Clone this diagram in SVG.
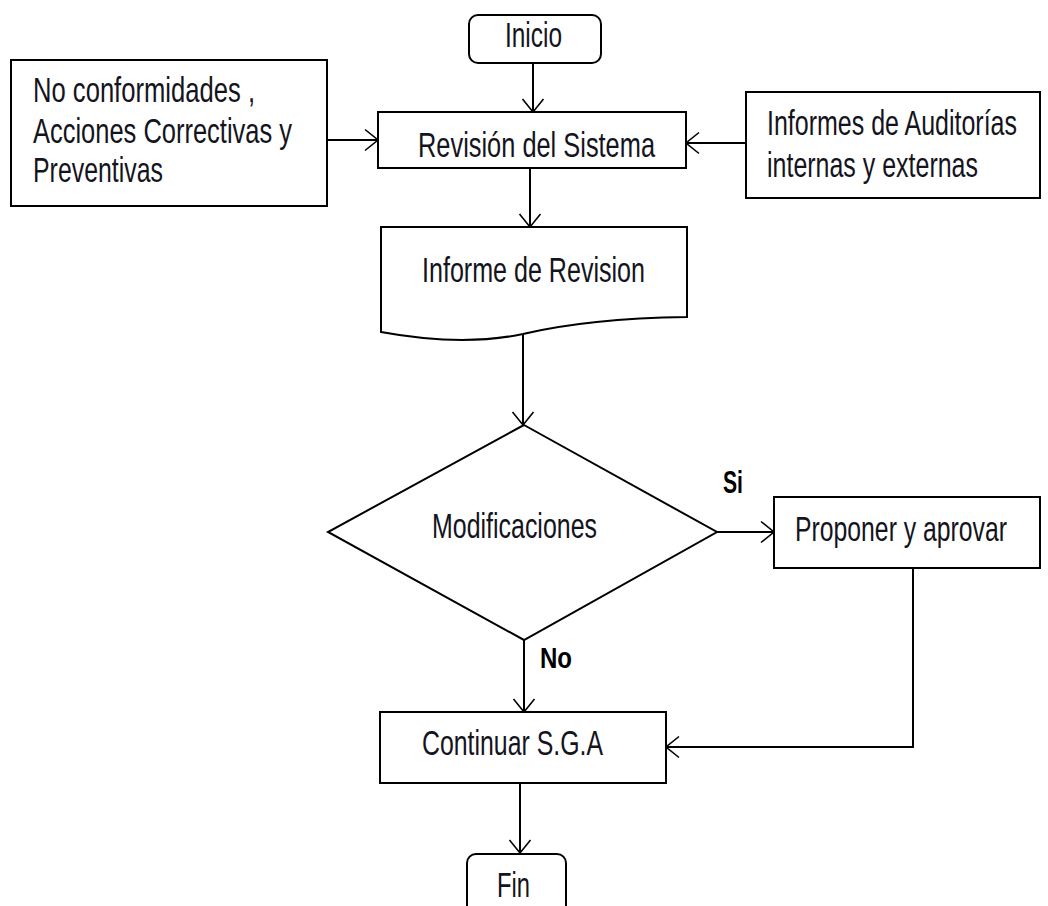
<svg xmlns="http://www.w3.org/2000/svg" width="1048" height="906" viewBox="0 0 1048 906">
  <style>
    .shape { fill: #ffffff; stroke: #000000; stroke-width: 2; }
    .edge { fill: none; stroke: #000000; stroke-width: 2; }
    .lbl { font-family: "Liberation Sans", Arial, sans-serif; font-size: 25.5px; fill: #141420; }
    .tag { font-family: "Liberation Sans", Arial, sans-serif; font-weight: bold; font-size: 22px; fill: #000000; }
  </style>
  <defs>
    <marker id="open-arrow" markerUnits="userSpaceOnUse" markerWidth="30" markerHeight="30" refX="0" refY="0" orient="auto" overflow="visible">
      <path d="M-13,-10.5 L0,0 L-13,10.5" fill="none" stroke="#000000" stroke-width="1.6"/>
    </marker>
  </defs>
  <rect width="1048" height="906" fill="#ffffff"/>

  <!-- connectors; text is drawn tall and narrow via a vertical scale -->
  <g id="connectors">
    <path class="edge" d="M533,63 V112" marker-end="url(#open-arrow)"/>
    <path class="edge" d="M327,140 H378" marker-end="url(#open-arrow)"/>
    <path class="edge" d="M746,143 H686" marker-end="url(#open-arrow)"/>
    <path class="edge" d="M530,168 V227" marker-end="url(#open-arrow)"/>
    <path class="edge" d="M523,335 V425" marker-end="url(#open-arrow)"/>
    <path class="edge" d="M717,532 H774" marker-end="url(#open-arrow)"/>
    <path class="edge" d="M524,640 V712" marker-end="url(#open-arrow)"/>
    <path class="edge" d="M913,568 V747 H666" marker-end="url(#open-arrow)"/>
    <path class="edge" d="M520,783 V853" marker-end="url(#open-arrow)"/>
    <text class="tag" transform="translate(723,493) scale(1,1.4)" textLength="20" lengthAdjust="spacingAndGlyphs">Si</text>
    <text class="tag" transform="translate(540,668) scale(1,1.37)" textLength="32" lengthAdjust="spacingAndGlyphs">No</text>
  </g>

  <!-- start -->
  <g id="inicio">
    <rect class="shape" x="469" y="15" width="132" height="48" rx="9"/>
    <text class="lbl" transform="translate(505,47) scale(1,1.37)" textLength="57" lengthAdjust="spacingAndGlyphs">Inicio</text>
  </g>

  <!-- system review -->
  <g id="revision-sistema">
    <rect class="shape" x="378" y="112" width="308" height="56"/>
    <text class="lbl" transform="translate(418,157) scale(1,1.37)" textLength="237" lengthAdjust="spacingAndGlyphs">Revisión del Sistema</text>
  </g>

  <!-- inputs -->
  <g id="no-conformidades">
    <rect class="shape" x="11" y="60" width="316" height="146"/>
    <text class="lbl" transform="translate(33,102) scale(1,1.37)" textLength="222" lengthAdjust="spacingAndGlyphs">No conformidades ,</text>
    <text class="lbl" transform="translate(33,143) scale(1,1.37)" textLength="259" lengthAdjust="spacingAndGlyphs">Acciones Correctivas y</text>
    <text class="lbl" transform="translate(33,182) scale(1,1.37)" textLength="130" lengthAdjust="spacingAndGlyphs">Preventivas</text>
  </g>

  <g id="informes-auditorias">
    <rect class="shape" x="746" y="92" width="294" height="106"/>
    <text class="lbl" transform="translate(767,135) scale(1,1.37)" textLength="250" lengthAdjust="spacingAndGlyphs">Informes de Auditorías</text>
    <text class="lbl" transform="translate(767,177) scale(1,1.37)" textLength="211" lengthAdjust="spacingAndGlyphs">internas y externas</text>
  </g>

  <!-- review report (document shape) -->
  <g id="informe-revision">
    <path class="shape" d="M381,227 H687 V317 C620,318 565,324 523,334 C480,343 430,341 381,332 Z"/>
    <text class="lbl" transform="translate(422,282) scale(1,1.37)" textLength="223" lengthAdjust="spacingAndGlyphs">Informe de Revision</text>
  </g>

  <!-- decision -->
  <g id="modificaciones">
    <path class="shape" d="M524,425 L717,532 L524,640 L328,532 Z"/>
    <text class="lbl" transform="translate(432,538) scale(1,1.37)" textLength="165" lengthAdjust="spacingAndGlyphs">Modificaciones</text>
  </g>

  <g id="proponer">
    <rect class="shape" x="774" y="497" width="266" height="71"/>
    <text class="lbl" transform="translate(795,541) scale(1,1.37)" textLength="212" lengthAdjust="spacingAndGlyphs">Proponer y aprovar</text>
  </g>

  <g id="continuar">
    <rect class="shape" x="380" y="712" width="286" height="71"/>
    <text class="lbl" transform="translate(422,755) scale(1,1.37)" textLength="181" lengthAdjust="spacingAndGlyphs">Continuar S.G.A</text>
  </g>

  <!-- end -->
  <g id="fin">
    <rect class="shape" x="467" y="854" width="99" height="70" rx="9"/>
    <text class="lbl" transform="translate(497,897) scale(1,1.37)" textLength="33" lengthAdjust="spacingAndGlyphs">Fin</text>
  </g>
</svg>
